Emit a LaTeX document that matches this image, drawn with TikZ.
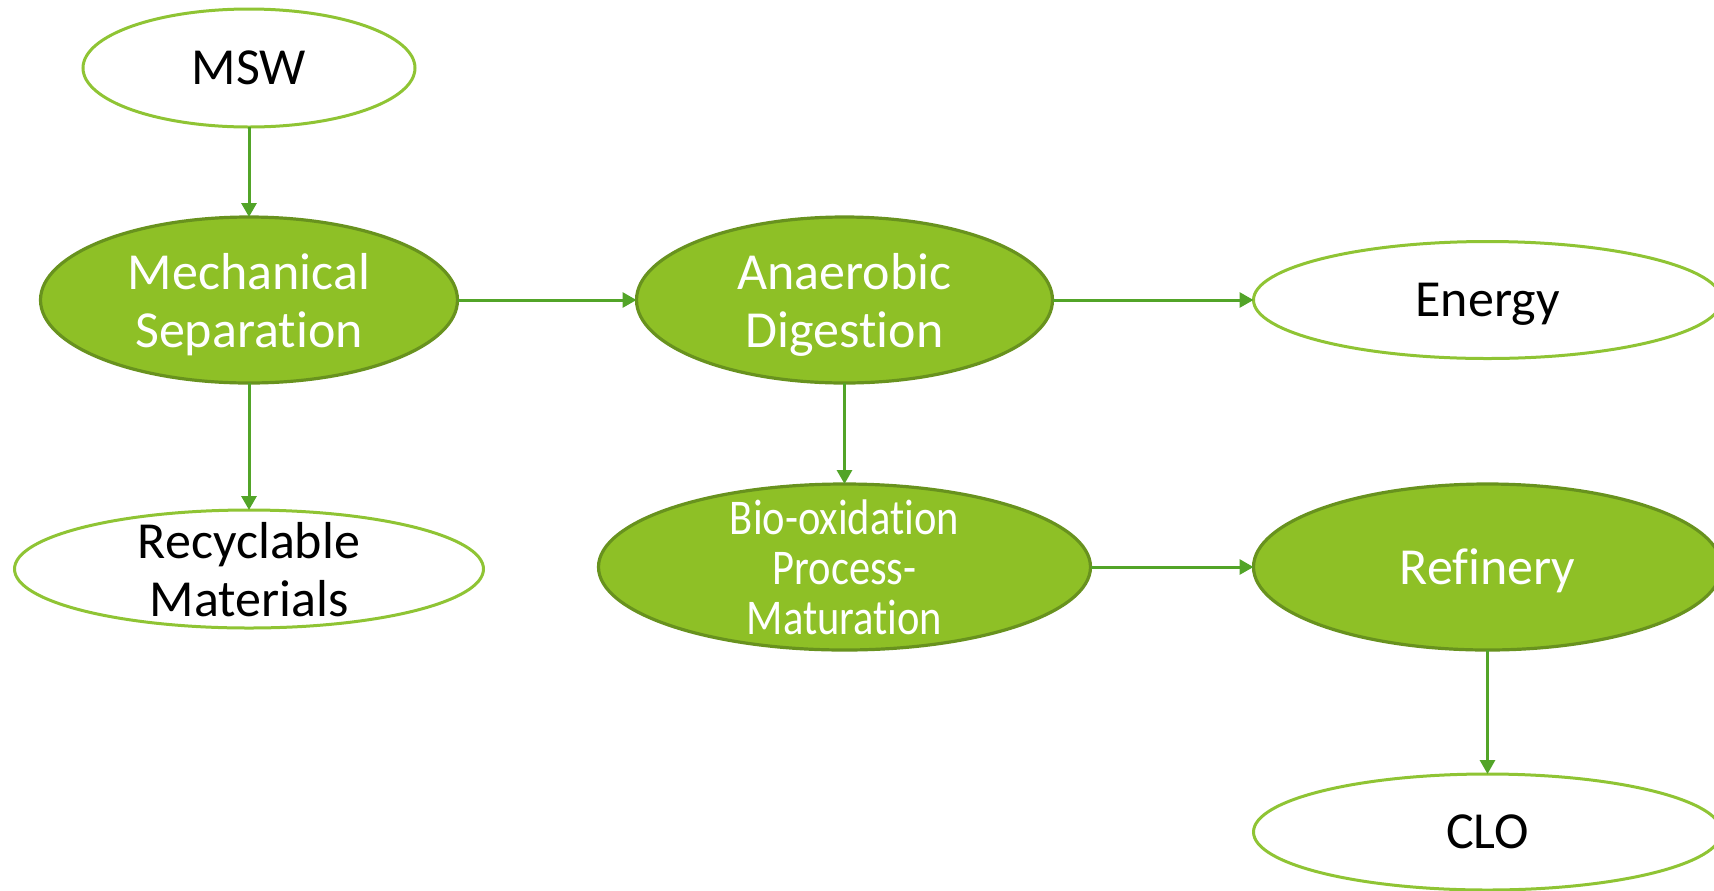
\documentclass[tikz,border=0pt]{standalone}
\usepackage{fontspec}
\setmainfont{Carlito}[Ligatures=NoCommon]
\newfontfamily\narrowfont[FakeStretch=0.85, Ligatures=NoCommon]{Carlito}
\usetikzlibrary{positioning, arrows.meta, shapes.geometric}

\definecolor{leaf}{RGB}{142,192,38}
\definecolor{leafdark}{RGB}{104,146,30}
\definecolor{leaflight}{RGB}{143,196,52}
\definecolor{arrowgreen}{RGB}{82,164,40}

\tikzset{
    proc/.style={ellipse, draw=leafdark, line width=1.6pt, fill=leaf, text=white, align=center, inner xsep=0pt, inner ysep=-10pt, outer sep=0pt, text depth=0pt},
    prod/.style={ellipse, draw=leaflight, line width=1.5pt, fill=white, text=black, align=center, inner xsep=0pt, inner ysep=-10pt, outer sep=0pt, text depth=0pt},
    flow/.style={->, draw=arrowgreen, line width=1.5pt},
    >={Triangle[length=7pt, width=7.5pt]}
}

\begin{document}
\begin{tikzpicture}[font=\fontsize{26}{29}\selectfont]
    \clip (0pt, 0pt) rectangle (857pt, -445pt);

    \node (msw) [prod, minimum width=166pt, minimum height=59pt] at (124.5pt, -34pt) {MSW};
    \node (mech) [proc, minimum width=208.5pt, minimum height=83pt, below=45pt of msw] {Mechanical\\Separation};
    \node (recycle) [prod, minimum width=234.5pt, minimum height=59pt, below=63.5pt of mech] {Recyclable\\Materials};
    \node (anaerobic) [proc, minimum width=208pt, minimum height=83pt, right=89.5pt of mech] {Anaerobic\\Digestion};
    \node (energy) [prod, minimum width=234pt, minimum height=58.5pt, right=100.5pt of anaerobic] {Energy};
    \node (bio) [proc, minimum width=246pt, minimum height=83pt, below=50.5pt of anaerobic, font=\narrowfont\fontsize{25}{25}\selectfont] {Bio-oxidation\\Process-\\Maturation};
    \node (refinery) [proc, minimum width=234pt, minimum height=83pt, right=81.5pt of bio] {Refinery};
    \node (clo) [prod, minimum width=234pt, minimum height=58pt, below=62pt of refinery] {CLO};

    \draw [flow] (msw.south) -- (mech.north);
    \draw [flow] (mech.south) -- (recycle.north);
    \draw [flow] (mech.east) -- (anaerobic.west);
    \draw [flow] (anaerobic.east) -- (energy.west);
    \draw [flow] (anaerobic.south) -- (bio.north);
    \draw [flow] (bio.east) -- (refinery.west);
    \draw [flow] (refinery.south) -- (clo.north);
\end{tikzpicture}
\end{document}
